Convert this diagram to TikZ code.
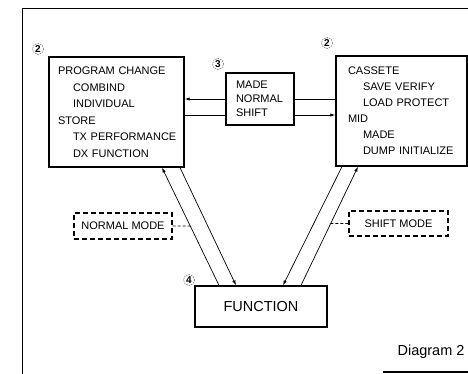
\documentclass[tikz,border=0pt]{standalone}
\usepackage{fontspec}
\setmainfont{Liberation Sans}
\usetikzlibrary{positioning,arrows.meta,calc}

\begin{document}
\begin{tikzpicture}[x=1pt,y=-1pt,
	box/.style={draw,line width=1.3pt,inner sep=0pt,align=left},
	modebox/.style={draw,line width=1.1pt,dash pattern=on 5pt off 3pt,minimum width=98pt,minimum height=26pt,inner sep=0pt},
	num/.style={circle,draw=black!60,dash pattern=on 1.5pt off 1pt,line width=0.5pt,inner sep=0.8pt,font=\fontsize{10}{10}\selectfont\bfseries},
	link/.style={line width=0.7pt},
	arr/.style={link,-{Latex[length=5pt,width=3.2pt]}},
	modelink/.style={line width=0.7pt,dash pattern=on 3pt off 2pt}]
	\tikzstyle{every node}+=[font=\fontsize{11}{16.5}\selectfont]
	\useasboundingbox (0,0) rectangle (468,374);
	% frame
	\draw [line width=0.8pt] (22,374) -- (22,8) -- (468,8);
	\draw [line width=1.2pt] (383,372) -- (468,372);
	% boxes
	\node [box,minimum width=135pt,minimum height=110pt,text width=117pt] (prog) at (116.5,112) {\mbox{PROGRAM CHANGE}\\\hspace*{15pt}COMBIND\\\hspace*{15pt}INDIVIDUAL\\STORE\\\hspace*{15pt}\mbox{TX PERFORMANCE}\\\hspace*{15pt}\mbox{DX FUNCTION}};
	\node [box,minimum width=68pt,minimum height=52pt,text width=48pt,font=\fontsize{11}{14}\selectfont] (made) at (260,99) {MADE\\NORMAL\\SHIFT};
	\node [box,minimum width=131pt,minimum height=110pt,text width=107pt,font=\fontsize{11}{16}\selectfont] (cass) at (401.5,111) {CASSETE\\\hspace*{15pt}\mbox{SAVE VERIFY}\\\hspace*{15pt}\mbox{LOAD PROTECT}\\MID\\\hspace*{15pt}MADE\\\hspace*{15pt}\mbox{DUMP INITIALIZE}};
	\node [box,minimum width=132pt,minimum height=41pt,align=center,font=\fontsize{14.5}{16}\selectfont] (func) at (261,306.5) {FUNCTION};
	\node [modebox] (normal) at (123,226) {NORMAL MODE};
	\node [modebox,minimum width=99pt,minimum height=25pt] (shift) at (398.5,223.5) {SHIFT MODE};
	% numbers
	\node [num] (n2l) at (38,49) {2};
	\node [num] (n3) at (218,64) {3};
	\node [num] (n2r) at (327,43) {2};
	\node [num] (n4) at (189,280) {4};
	% horizontal links
	\coordinate (mwl) at ([yshift=-16pt]made.west);
	\coordinate (mel) at ([yshift=-16pt]made.east);
	\draw [arr] (made.west) -- (made.west -| prog.east);
	\draw [link] (mwl -| prog.east) -- (mwl);
	\draw [link] (made.east) -- (made.east -| cass.west);
	\draw [arr] (mel) -- (mel -| cass.west);
	% diagonal links
	\coordinate (pa) at ([xshift=45.5pt]prog.south);
	\coordinate (pb) at ([xshift=63.5pt]prog.south);
	\coordinate (ca) at ([xshift=-59.5pt]cass.south);
	\coordinate (cb) at ([xshift=-43.5pt]cass.south);
	\coordinate (fa) at ([xshift=-42pt]func.north);
	\coordinate (fb) at ([xshift=-25pt]func.north);
	\coordinate (fc) at ([xshift=22pt]func.north);
	\coordinate (fd) at ([xshift=40pt]func.north);
	\draw [arr] (fa) -- (pa);
	\draw [arr] (pb) -- (fb);
	\draw [arr] (ca) -- (fc);
	\draw [arr] (fd) -- (cb);
	% mode links
	\draw [modelink] (normal.east) -- ($(pa)!0.496!(fa)$);
	\draw [modelink] (shift.west) -- ($(cb)!0.479!(fd)$);
	\node [anchor=base east,font=\fontsize{14.5}{16}\selectfont] (cap) at (468,355) {Diagram 2};
\end{tikzpicture}
\end{document}
